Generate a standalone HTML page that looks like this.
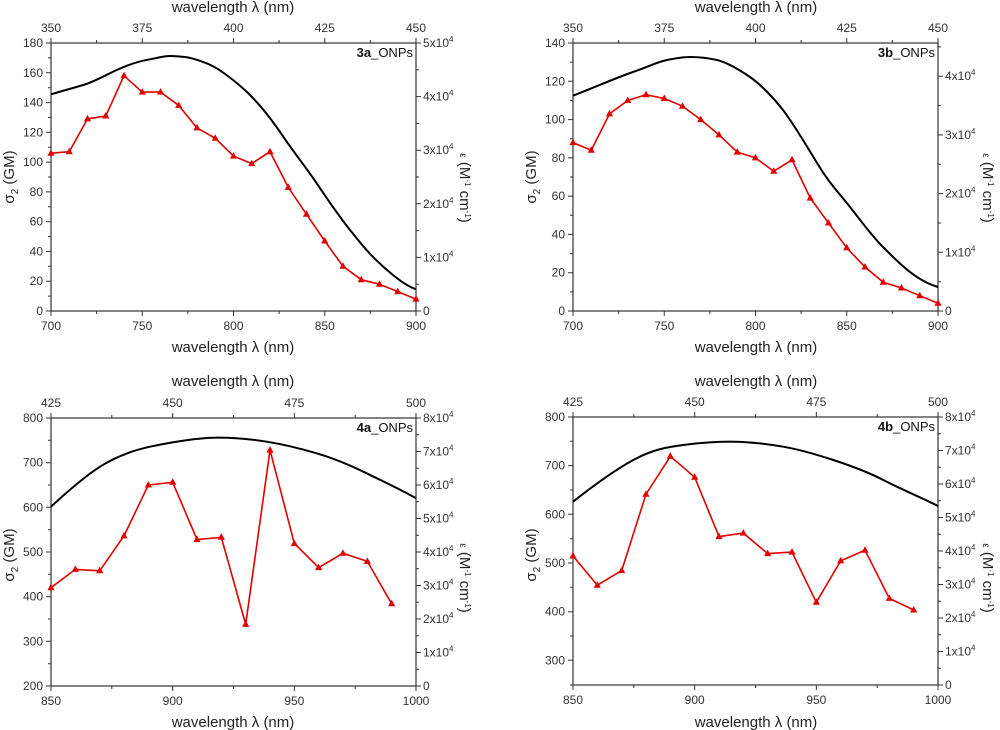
<!DOCTYPE html>
<html><head><meta charset="utf-8"><style>
html,body{margin:0;padding:0;background:#fff;}
svg{display:block;font-family:"Liberation Sans",sans-serif;}
.t{font-size:12px;fill:#333;}
.ti{font-size:15px;fill:#222;}
.ax{fill:none;stroke:#333;stroke-width:1.2;}
.tk{fill:none;stroke:#333;stroke-width:1;}
.blk{fill:none;stroke:#000;stroke-width:2;}
.red{fill:none;stroke:#e00000;stroke-width:1.6;}
.lab{font-size:13px;fill:#111;}
</style></head><body>
<svg width="1000" height="730" viewBox="0 0 1000 730">
<defs><path id="tri" d="M0,-4L3.6,2.5L-3.6,2.5Z" fill="#e00000"/></defs>

<!-- ===== 3a ===== -->
<g transform="translate(51,43)">
<rect class="ax" x="0" y="0" width="365" height="268"/>
<path class="tk" d="M0,268v5M91.25,268v5M182.5,268v5M273.75,268v5M365,268v5M45.6,268v3M136.9,268v3M228.1,268v3M319.4,268v3
M0,0v-5M91.25,0v-5M182.5,0v-5M273.75,0v-5M365,0v-5M45.6,0v-3M136.9,0v-3M228.1,0v-3M319.4,0v-3
M0,268h-5M0,238.2h-5M0,208.4h-5M0,178.7h-5M0,148.9h-5M0,119.1h-5M0,89.3h-5M0,59.6h-5M0,29.8h-5M0,0h-5
M0,253.1h-3M0,223.3h-3M0,193.5h-3M0,163.8h-3M0,134h-3M0,104.2h-3M0,74.5h-3M0,44.7h-3M0,14.9h-3
M365,268h5M365,214.4h5M365,160.8h5M365,107.2h5M365,53.6h5M365,0h5M365,241.2h3M365,187.6h3M365,134h3M365,80.4h3M365,26.8h3"/>
<g class="t" text-anchor="middle">
<text x="0" y="287">700</text><text x="91.25" y="287">750</text><text x="182.5" y="287">800</text><text x="273.75" y="287">850</text><text x="365" y="287">900</text>
<text x="0" y="-11">350</text><text x="91.25" y="-11">375</text><text x="182.5" y="-11">400</text><text x="273.75" y="-11">425</text><text x="365" y="-11">450</text>
</g>
<g class="t" text-anchor="end">
<text x="-8" y="272">0</text><text x="-8" y="242.2">20</text><text x="-8" y="212.4">40</text><text x="-8" y="182.7">60</text><text x="-8" y="152.9">80</text><text x="-8" y="123.1">100</text><text x="-8" y="93.3">120</text><text x="-8" y="63.6">140</text><text x="-8" y="33.8">160</text><text x="-8" y="4">180</text>
</g>
<g class="t">
<text x="372" y="272">0</text>
<text x="372" y="218.4">1x10<tspan font-size="8" dy="-5">4</tspan></text>
<text x="372" y="164.8">2x10<tspan font-size="8" dy="-5">4</tspan></text>
<text x="372" y="111.2">3x10<tspan font-size="8" dy="-5">4</tspan></text>
<text x="372" y="57.6">4x10<tspan font-size="8" dy="-5">4</tspan></text>
<text x="372" y="4">5x10<tspan font-size="8" dy="-5">4</tspan></text>
</g>
<text class="lab" x="362" y="14" text-anchor="end"><tspan font-weight="bold">3a</tspan>_ONPs</text>
</g>
<text class="ti" x="233" y="12" text-anchor="middle">wavelength λ (nm)</text>
<text class="ti" x="233" y="352" text-anchor="middle">wavelength λ (nm)</text>
<text class="ti" transform="translate(14,177) rotate(-90)" text-anchor="middle">σ<tspan font-size="10" dy="4">2</tspan><tspan dy="-4"> (GM)</tspan></text>
<text class="ti" transform="translate(460,188) rotate(90)" text-anchor="middle"><tspan font-size="10">ε</tspan> (M<tspan font-size="8" dy="-5">-1</tspan><tspan dy="5"> cm</tspan><tspan font-size="8" dy="-5">-1</tspan><tspan dy="5">)</tspan></text>
<path class="blk" d="M51,94.3 C62,91 73,88 83.3,85 S106,75 116.7,70 S140,61 150,59.3 S163,56 170,56 S181,56.5 186.7,57.3 S208,63 216.7,68.3 S240,85 250,95 S272,120 283.3,136.7 S305,166 316.7,183.3 S338,215 350,230 S370,255 383.3,266.7 S405,285 416,289.3"/>
<polyline class="red" points="51,153.2 69.25,151.7 87.5,118.9 105.75,116 124,75.7 142.25,92.1 160.5,92.1 178.75,105.5 197,127.9 215.25,138.3 233.5,156.1 251.75,163.6 270,151.7 288.25,187.4 306.5,214.2 324.75,241 343,266.3 361.25,279.7 379.5,284.2 397.75,291.6 416,299.1"/>
<g><use href="#tri" x="51" y="153.2"/><use href="#tri" x="69.25" y="151.7"/><use href="#tri" x="87.5" y="118.9"/><use href="#tri" x="105.75" y="116"/><use href="#tri" x="124" y="75.7"/><use href="#tri" x="142.25" y="92.1"/><use href="#tri" x="160.5" y="92.1"/><use href="#tri" x="178.75" y="105.5"/><use href="#tri" x="197" y="127.9"/><use href="#tri" x="215.25" y="138.3"/><use href="#tri" x="233.5" y="156.1"/><use href="#tri" x="251.75" y="163.6"/><use href="#tri" x="270" y="151.7"/><use href="#tri" x="288.25" y="187.4"/><use href="#tri" x="306.5" y="214.2"/><use href="#tri" x="324.75" y="241"/><use href="#tri" x="343" y="266.3"/><use href="#tri" x="361.25" y="279.7"/><use href="#tri" x="379.5" y="284.2"/><use href="#tri" x="397.75" y="291.6"/><use href="#tri" x="416" y="299.1"/></g>

<!-- ===== 3b ===== -->
<g transform="translate(573,43)">
<rect class="ax" x="0" y="0" width="365" height="268"/>
<path class="tk" d="M0,268v5M91.25,268v5M182.5,268v5M273.75,268v5M365,268v5M45.6,268v3M136.9,268v3M228.1,268v3M319.4,268v3
M0,0v-5M91.25,0v-5M182.5,0v-5M273.75,0v-5M365,0v-5M45.6,0v-3M136.9,0v-3M228.1,0v-3M319.4,0v-3
M0,268h-5M0,229.7h-5M0,191.4h-5M0,153.1h-5M0,114.9h-5M0,76.6h-5M0,38.3h-5M0,0h-5
M0,248.9h-3M0,210.6h-3M0,172.3h-3M0,134h-3M0,95.7h-3M0,57.4h-3M0,19.1h-3
M365,268h5M365,209.3h5M365,150.6h5M365,91.9h5M365,33.2h5M365,238.7h3M365,180h3M365,121.3h3M365,62.6h3M365,3.9h3"/>
<g class="t" text-anchor="middle">
<text x="0" y="287">700</text><text x="91.25" y="287">750</text><text x="182.5" y="287">800</text><text x="273.75" y="287">850</text><text x="365" y="287">900</text>
<text x="0" y="-11">350</text><text x="91.25" y="-11">375</text><text x="182.5" y="-11">400</text><text x="273.75" y="-11">425</text><text x="365" y="-11">450</text>
</g>
<g class="t" text-anchor="end">
<text x="-8" y="272">0</text><text x="-8" y="233.7">20</text><text x="-8" y="195.4">40</text><text x="-8" y="157.1">60</text><text x="-8" y="118.9">80</text><text x="-8" y="80.6">100</text><text x="-8" y="42.3">120</text><text x="-8" y="4">140</text>
</g>
<g class="t">
<text x="372" y="272">0</text>
<text x="372" y="213.3">1x10<tspan font-size="8" dy="-5">4</tspan></text>
<text x="372" y="154.6">2x10<tspan font-size="8" dy="-5">4</tspan></text>
<text x="372" y="95.9">3x10<tspan font-size="8" dy="-5">4</tspan></text>
<text x="372" y="37.2">4x10<tspan font-size="8" dy="-5">4</tspan></text>
</g>
<text class="lab" x="362" y="14" text-anchor="end"><tspan font-weight="bold">3b</tspan>_ONPs</text>
</g>
<text class="ti" x="756" y="12" text-anchor="middle">wavelength λ (nm)</text>
<text class="ti" x="756" y="352" text-anchor="middle">wavelength λ (nm)</text>
<text class="ti" transform="translate(536,177) rotate(-90)" text-anchor="middle">σ<tspan font-size="10" dy="4">2</tspan><tspan dy="-4"> (GM)</tspan></text>
<text class="ti" transform="translate(983,188) rotate(90)" text-anchor="middle"><tspan font-size="10">ε</tspan> (M<tspan font-size="8" dy="-5">-1</tspan><tspan dy="5"> cm</tspan><tspan font-size="8" dy="-5">-1</tspan><tspan dy="5">)</tspan></text>
<path class="blk" d="M573,95.7 C593,88 613,79 633,72 S657,62 667,60 S683,57 690,57 S708,58 717,60 S740,70 750,77 S773,97 783,110 S805,143 817,163 S839,193 850,207 S872,236 883,247 S906,270 917,277 S932,285 938,287"/>
<polyline class="red" points="573,142.6 591.25,150.2 609.5,113.9 627.75,100.5 646,94.7 664.25,98.5 682.5,106.2 700.75,119.6 719,134.9 737.25,152.1 755.5,157.9 773.75,171.3 792,159.8 810.25,198.1 828.5,223 846.75,247.8 865,267 883.25,282.3 901.5,288 919.75,295.7 938,303.3"/>
<g><use href="#tri" x="573" y="142.6"/><use href="#tri" x="591.25" y="150.2"/><use href="#tri" x="609.5" y="113.9"/><use href="#tri" x="627.75" y="100.5"/><use href="#tri" x="646" y="94.7"/><use href="#tri" x="664.25" y="98.5"/><use href="#tri" x="682.5" y="106.2"/><use href="#tri" x="700.75" y="119.6"/><use href="#tri" x="719" y="134.9"/><use href="#tri" x="737.25" y="152.1"/><use href="#tri" x="755.5" y="157.9"/><use href="#tri" x="773.75" y="171.3"/><use href="#tri" x="792" y="159.8"/><use href="#tri" x="810.25" y="198.1"/><use href="#tri" x="828.5" y="223"/><use href="#tri" x="846.75" y="247.8"/><use href="#tri" x="865" y="267"/><use href="#tri" x="883.25" y="282.3"/><use href="#tri" x="901.5" y="288"/><use href="#tri" x="919.75" y="295.7"/><use href="#tri" x="938" y="303.3"/></g>

<!-- ===== 4a ===== -->
<g transform="translate(51,418)">
<rect class="ax" x="0" y="0" width="365" height="268"/>
<path class="tk" d="M0,268v5M121.67,268v5M243.33,268v5M365,268v5M60.8,268v3M182.5,268v3M304.2,268v3
M0,0v-5M121.67,0v-5M243.33,0v-5M365,0v-5M60.8,0v-3M182.5,0v-3M304.2,0v-3
M0,268h-5M0,223.3h-5M0,178.7h-5M0,134h-5M0,89.3h-5M0,44.7h-5M0,0h-5
M0,245.7h-3M0,201h-3M0,156.3h-3M0,111.7h-3M0,67h-3M0,22.3h-3
M365,268h5M365,234.5h5M365,201h5M365,167.5h5M365,134h5M365,100.5h5M365,67h5M365,33.5h5M365,0h5
M365,251.3h3M365,217.8h3M365,184.3h3M365,150.8h3M365,117.3h3M365,83.8h3M365,50.3h3M365,16.8h3"/>
<g class="t" text-anchor="middle">
<text x="0" y="287">850</text><text x="121.67" y="287">900</text><text x="243.33" y="287">950</text><text x="365" y="287">1000</text>
<text x="0" y="-11">425</text><text x="121.67" y="-11">450</text><text x="243.33" y="-11">475</text><text x="365" y="-11">500</text>
</g>
<g class="t" text-anchor="end">
<text x="-8" y="272">200</text><text x="-8" y="227.3">300</text><text x="-8" y="182.7">400</text><text x="-8" y="138">500</text><text x="-8" y="93.3">600</text><text x="-8" y="48.7">700</text><text x="-8" y="4">800</text>
</g>
<g class="t">
<text x="372" y="272">0</text>
<text x="372" y="238.5">1x10<tspan font-size="8" dy="-5">4</tspan></text>
<text x="372" y="205">2x10<tspan font-size="8" dy="-5">4</tspan></text>
<text x="372" y="171.5">3x10<tspan font-size="8" dy="-5">4</tspan></text>
<text x="372" y="138">4x10<tspan font-size="8" dy="-5">4</tspan></text>
<text x="372" y="104.5">5x10<tspan font-size="8" dy="-5">4</tspan></text>
<text x="372" y="71">6x10<tspan font-size="8" dy="-5">4</tspan></text>
<text x="372" y="37.5">7x10<tspan font-size="8" dy="-5">4</tspan></text>
<text x="372" y="4">8x10<tspan font-size="8" dy="-5">4</tspan></text>
</g>
<text class="lab" x="362" y="14" text-anchor="end"><tspan font-weight="bold">4a</tspan>_ONPs</text>
</g>
<text class="ti" x="233" y="386" text-anchor="middle">wavelength λ (nm)</text>
<text class="ti" x="233" y="727" text-anchor="middle">wavelength λ (nm)</text>
<text class="ti" transform="translate(14,555) rotate(-90)" text-anchor="middle">σ<tspan font-size="10" dy="4">2</tspan><tspan dy="-4"> (GM)</tspan></text>
<text class="ti" transform="translate(460,578) rotate(90)" text-anchor="middle"><tspan font-size="10">ε</tspan> (M<tspan font-size="8" dy="-5">-1</tspan><tspan dy="5"> cm</tspan><tspan font-size="8" dy="-5">-1</tspan><tspan dy="5">)</tspan></text>
<path class="blk" d="M51,506.7 C68,491 84,477 100,466.7 S135,450 150,446.7 S195,438 213.3,437.7 S250,439 266.7,441.7 S302,449 316.7,453.3 S350,465 366.7,473.3 S400,489 416,498.3"/>
<polyline class="red" points="51,587.7 75.33,569.4 99.67,570.8 124,535.9 148.33,485 172.67,482.3 197,539.5 221.33,537.3 245.67,624.4 270,450.1 294.33,543.5 318.67,567.6 343,553.3 367.33,561.4 391.67,603.8"/>
<g><use href="#tri" x="51" y="587.7"/><use href="#tri" x="75.33" y="569.4"/><use href="#tri" x="99.67" y="570.8"/><use href="#tri" x="124" y="535.9"/><use href="#tri" x="148.33" y="485"/><use href="#tri" x="172.67" y="482.3"/><use href="#tri" x="197" y="539.5"/><use href="#tri" x="221.33" y="537.3"/><use href="#tri" x="245.67" y="624.4"/><use href="#tri" x="270" y="450.1"/><use href="#tri" x="294.33" y="543.5"/><use href="#tri" x="318.67" y="567.6"/><use href="#tri" x="343" y="553.3"/><use href="#tri" x="367.33" y="561.4"/><use href="#tri" x="391.67" y="603.8"/></g>

<!-- ===== 4b ===== -->
<g transform="translate(573,417)">
<rect class="ax" x="0" y="0" width="365" height="268"/>
<path class="tk" d="M0,268v5M121.67,268v5M243.33,268v5M365,268v5M60.8,268v3M182.5,268v3M304.2,268v3
M0,0v-5M121.67,0v-5M243.33,0v-5M365,0v-5M60.8,0v-3M182.5,0v-3M304.2,0v-3
M0,0h-5M0,48.67h-5M0,97.3h-5M0,146h-5M0,194.7h-5M0,243.3h-5
M0,24.3h-3M0,73h-3M0,121.7h-3M0,170.3h-3M0,219h-3M0,268h-3
M365,268h5M365,234.5h5M365,201h5M365,167.5h5M365,134h5M365,100.5h5M365,67h5M365,33.5h5M365,0h5
M365,251.3h3M365,217.8h3M365,184.3h3M365,150.8h3M365,117.3h3M365,83.8h3M365,50.3h3M365,16.8h3"/>
<g class="t" text-anchor="middle">
<text x="0" y="287">850</text><text x="121.67" y="287">900</text><text x="243.33" y="287">950</text><text x="365" y="287">1000</text>
<text x="0" y="-11">425</text><text x="121.67" y="-11">450</text><text x="243.33" y="-11">475</text><text x="365" y="-11">500</text>
</g>
<g class="t" text-anchor="end">
<text x="-8" y="247.3">300</text><text x="-8" y="198.7">400</text><text x="-8" y="150">500</text><text x="-8" y="101.3">600</text><text x="-8" y="52.7">700</text><text x="-8" y="4">800</text>
</g>
<g class="t">
<text x="372" y="272">0</text>
<text x="372" y="238.5">1x10<tspan font-size="8" dy="-5">4</tspan></text>
<text x="372" y="205">2x10<tspan font-size="8" dy="-5">4</tspan></text>
<text x="372" y="171.5">3x10<tspan font-size="8" dy="-5">4</tspan></text>
<text x="372" y="138">4x10<tspan font-size="8" dy="-5">4</tspan></text>
<text x="372" y="104.5">5x10<tspan font-size="8" dy="-5">4</tspan></text>
<text x="372" y="71">6x10<tspan font-size="8" dy="-5">4</tspan></text>
<text x="372" y="37.5">7x10<tspan font-size="8" dy="-5">4</tspan></text>
<text x="372" y="4">8x10<tspan font-size="8" dy="-5">4</tspan></text>
</g>
<text class="lab" x="362" y="14" text-anchor="end"><tspan font-weight="bold">4b</tspan>_ONPs</text>
</g>
<text class="ti" x="756" y="386" text-anchor="middle">wavelength λ (nm)</text>
<text class="ti" x="756" y="727" text-anchor="middle">wavelength λ (nm)</text>
<text class="ti" transform="translate(536,555) rotate(-90)" text-anchor="middle">σ<tspan font-size="10" dy="4">2</tspan><tspan dy="-4"> (GM)</tspan></text>
<text class="ti" transform="translate(983,578) rotate(90)" text-anchor="middle"><tspan font-size="10">ε</tspan> (M<tspan font-size="8" dy="-5">-1</tspan><tspan dy="5"> cm</tspan><tspan font-size="8" dy="-5">-1</tspan><tspan dy="5">)</tspan></text>
<path class="blk" d="M573,501.7 C593,486 613,471 633.3,460 S668,447 683.3,445 S716,441.5 733.3,441.7 S768,444 783.3,446.7 S818,455 833.3,460 S868,472 883.3,480 S920,497 938,506"/>
<polyline class="red" points="573,556 597.33,585.2 621.67,570.6 646,494.2 670.33,456.3 694.67,477.2 719,536.6 743.33,533.1 767.67,553.6 792,552.1 816.33,602.3 840.67,560.9 865,550.2 889.33,598.4 913.67,610"/>
<g><use href="#tri" x="573" y="556"/><use href="#tri" x="597.33" y="585.2"/><use href="#tri" x="621.67" y="570.6"/><use href="#tri" x="646" y="494.2"/><use href="#tri" x="670.33" y="456.3"/><use href="#tri" x="694.67" y="477.2"/><use href="#tri" x="719" y="536.6"/><use href="#tri" x="743.33" y="533.1"/><use href="#tri" x="767.67" y="553.6"/><use href="#tri" x="792" y="552.1"/><use href="#tri" x="816.33" y="602.3"/><use href="#tri" x="840.67" y="560.9"/><use href="#tri" x="865" y="550.2"/><use href="#tri" x="889.33" y="598.4"/><use href="#tri" x="913.67" y="610"/></g>
</svg>
</body></html>
